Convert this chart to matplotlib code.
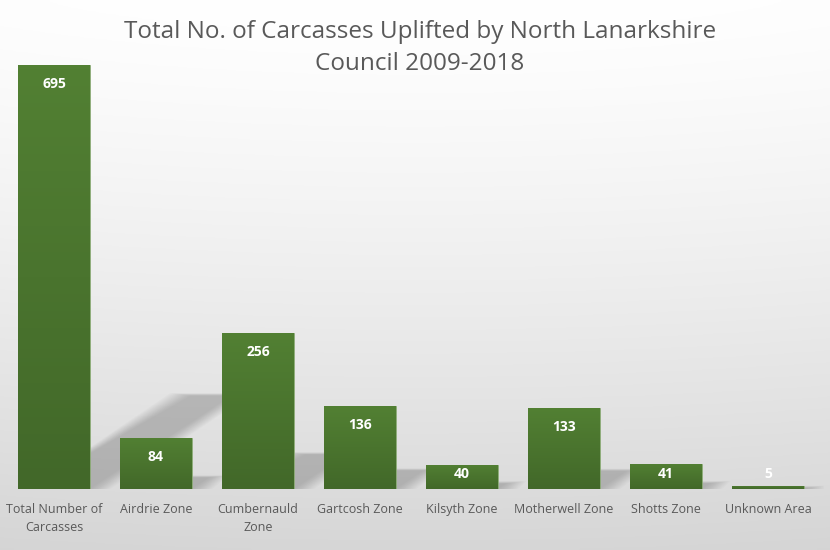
import matplotlib.pyplot as plt
import numpy as np
from matplotlib.patches import Polygon

# Chart data
categories = ["Total Number of\nCarcasses", "Airdrie Zone", "Cumbernauld\nZone",
              "Gartcosh Zone", "Kilsyth Zone", "Motherwell Zone", "Shotts Zone",
              "Unknown Area"]
values = [695, 84, 256, 136, 40, 133, 41, 5]

title = "Total No. of Carcasses Uplifted by North Lanarkshire\nCouncil 2009-2018"

plt.rcParams["font.family"] = ["Open Sans", "DejaVu Sans"]

fig = plt.figure(figsize=(8.3, 5.5), dpi=100)

# background gradient: white at top, light grey at bottom
bg = fig.add_axes([0, 0, 1, 1], zorder=-10)
yy, xx = np.mgrid[0:1:200j, 0:1:200j]
shade = 1.0 - 0.16 * yy ** 1.3 - 0.02 * (xx - 0.5) ** 2
bg.imshow(np.dstack([shade, shade, shade]), extent=[0, 1, 0, 1], aspect="auto",
          origin="upper")
bg.axis("off")

ax = fig.add_axes([3 / 830, 61 / 550, 821 / 830, 427 / 550])
ax.patch.set_alpha(0)
x = np.arange(len(values))
width = 0.7

# soft perspective shadows behind the bars (stacked faint layers = blur)
n_layers = 12
for xi, v in zip(x, values):
    h = v * 0.22
    dx = v * 0.002
    for k in range(n_layers):
        grow = 0.2 * (1 - k / (n_layers - 1))
        pts = [(xi - width / 2 + 0.1, 0), (xi + width / 2 + grow, 0),
               (xi + width / 2 + dx + grow, h + grow * 20),
               (xi - width / 2 + dx + 0.3 - grow, h + grow * 20)]
        ax.add_patch(Polygon(pts, closed=True, facecolor="#606060", alpha=0.03,
                             edgecolor="none", zorder=1))

bars = ax.bar(x, values, width=width, color="#4e7a30", edgecolor="#8fae7a",
              linewidth=0.6, zorder=3)

# vertical gradient on each bar
grad = np.linspace(0, 1, 100).reshape(-1, 1)
top_c = np.array([0x52, 0x80, 0x33]) / 255
bot_c = np.array([0x42, 0x68, 0x29]) / 255
img = top_c * (1 - grad[..., None]) + bot_c * grad[..., None]
for b in bars:
    im = ax.imshow(img, extent=[b.get_x(), b.get_x() + b.get_width(), 0, b.get_height()],
                   aspect="auto", origin="upper", zorder=3.5)
    im.set_clip_path(b)

for xi, v in zip(x, values):
    ax.text(xi, max(v - 31, 25), str(v), ha="center", va="center", color="white",
            fontsize=10, fontweight="bold", zorder=5)

ax.set_xlim(-0.5, len(values) - 0.45)
ax.set_ylim(0, 700)
ax.set_xticks(x)
ax.set_xticklabels(categories, fontsize=9, color="#595959", linespacing=1.55)
ax.tick_params(axis="x", length=0, pad=10)
ax.set_yticks([])
for s in ax.spines.values():
    s.set_visible(False)

fig.text(0.506, 0.963, title, ha="center", va="top", fontsize=17.5,
         color="#595959", linespacing=1.42)

fig.savefig("out.png", dpi=100)
